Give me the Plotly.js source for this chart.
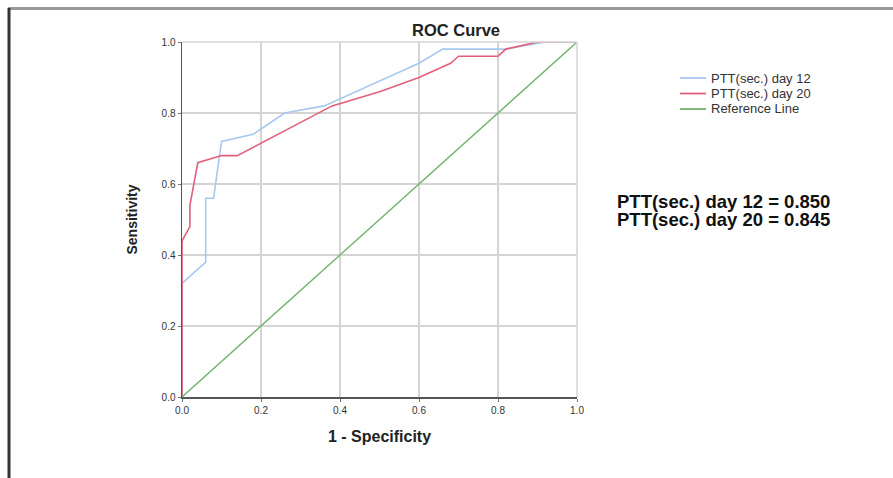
<!DOCTYPE html>
<html><head><meta charset="utf-8">
<script src="https://cdn.plot.ly/plotly-3.0.1.min.js"></script>
<style>html,body{margin:0;padding:0;background:#fff;}#chart{width:893px;height:478px;}</style>
</head><body><div id="chart"></div>
<script>
const day12X = [0, 0, 0.06, 0.06, 0.08, 0.10, 0.18, 0.26, 0.36, 0.60, 0.66, 0.82, 0.92, 1.0];
const day12Y = [0, 0.32, 0.38, 0.56, 0.56, 0.72, 0.74, 0.80, 0.82, 0.94, 0.98, 0.98, 1.0, 1.0];
const day20X = [0, 0, 0.02, 0.02, 0.04, 0.10, 0.14, 0.38, 0.50, 0.60, 0.68, 0.70, 0.80, 0.82, 0.90, 1.0];
const day20Y = [0, 0.44, 0.48, 0.54, 0.66, 0.68, 0.68, 0.82, 0.86, 0.90, 0.94, 0.96, 0.96, 0.98, 1.0, 1.0];
const refX = [0, 1];
const refY = [0, 1];
const seriesNames = ["PTT(sec.) day 12", "PTT(sec.) day 20", "Reference Line"];
const seriesColors = ['#a8c8f0', '#e2607c', '#72b46e'];
const aucLabels = ["PTT(sec.) day 12 = 0.850", "PTT(sec.) day 20 = 0.845"];
const tickVals = [0, 0.2, 0.4, 0.6, 0.8, 1.0];

const W = 893, H = 478, L = 182, R = 577, T = 42, B = 397;
const px = x => (x - L) / (R - L);
const py = y => (B - y) / (B - T);

const traces = [
  {x: day12X, y: day12Y, name: seriesNames[0], mode: 'lines', line: {color: seriesColors[0], width: 1.6}},
  {x: day20X, y: day20Y, name: seriesNames[1], mode: 'lines', line: {color: seriesColors[1], width: 1.6}},
  {x: refX, y: refY, name: seriesNames[2], mode: 'lines', line: {color: seriesColors[2], width: 1.4}}
];

const legendY = [78, 93.5, 109];
const shapes = [
  {type: 'line', xref: 'paper', yref: 'paper', x0: px(8), x1: px(893), y0: py(8.5), y1: py(8.5), line: {color: '#999', width: 3}},
  {type: 'line', xref: 'paper', yref: 'paper', x0: px(9), x1: px(9), y0: py(8), y1: py(478), line: {color: '#333', width: 3}},
  {type: 'line', xref: 'paper', yref: 'paper', x0: 1, x1: 1, y0: 0, y1: 1, line: {color: '#d4d4d4', width: 1.5}},
  {type: 'line', xref: 'paper', yref: 'paper', x0: 0, x1: 1, y0: 1, y1: 1, line: {color: '#d4d4d4', width: 1.5}}
];
const annotations = [
  {text: '<b>ROC Curve</b>', xref: 'paper', yref: 'paper', x: px(456), y: py(30), xanchor: 'center', yanchor: 'middle', showarrow: false, font: {size: 16.5, color: '#222'}},
  {text: '<b>' + aucLabels[0] + '</b>', xref: 'paper', yref: 'paper', x: px(615), y: py(202), xanchor: 'left', yanchor: 'middle', showarrow: false, font: {size: 18.5, color: '#111'}},
  {text: '<b>' + aucLabels[1] + '</b>', xref: 'paper', yref: 'paper', x: px(615), y: py(219), xanchor: 'left', yanchor: 'middle', showarrow: false, font: {size: 18.5, color: '#111'}}
];
seriesNames.forEach((n, i) => {
  shapes.push({type: 'line', xref: 'paper', yref: 'paper', x0: px(680), x1: px(706), y0: py(legendY[i]), y1: py(legendY[i]), line: {color: seriesColors[i], width: 1.8}});
  annotations.push({text: n, xref: 'paper', yref: 'paper', x: px(709), y: py(legendY[i]), xanchor: 'left', yanchor: 'middle', showarrow: false, font: {size: 13, color: '#333'}});
});

const layout = {
  width: W, height: H,
  margin: {l: L, r: W - R, t: T, b: H - B, pad: 0},
  paper_bgcolor: '#fff', plot_bgcolor: '#fff',
  font: {family: 'Liberation Sans, Arial, sans-serif', color: '#222'},
  showlegend: false,
  xaxis: {range: [0, 1], tickvals: tickVals, ticktext: tickVals.map(v => v.toFixed(1)),
          showgrid: true, gridcolor: '#d4d4d4', gridwidth: 1.5, zeroline: false,
          showline: true, linecolor: '#555', linewidth: 1.5, ticks: 'outside', ticklen: 3, tickcolor: '#777',
          tickfont: {size: 10, color: '#333'}, fixedrange: true,
          title: {text: '<b>1 - Specificity</b>', font: {size: 16, color: '#222'}, standoff: 16}},
  yaxis: {range: [0, 1], tickvals: tickVals, ticktext: tickVals.map(v => v.toFixed(1)),
          showgrid: true, gridcolor: '#d4d4d4', gridwidth: 1.5, zeroline: false,
          showline: true, linecolor: '#555', linewidth: 1.5, ticks: 'outside', ticklen: 3, tickcolor: '#777',
          tickfont: {size: 10, color: '#333'}, fixedrange: true,
          title: {text: '<b>Sensitivity</b>', font: {size: 14, color: '#222'}, standoff: 20}},
  shapes: shapes,
  annotations: annotations
};

Plotly.newPlot('chart', traces, layout, {displayModeBar: false, staticPlot: true});
</script></body></html>
